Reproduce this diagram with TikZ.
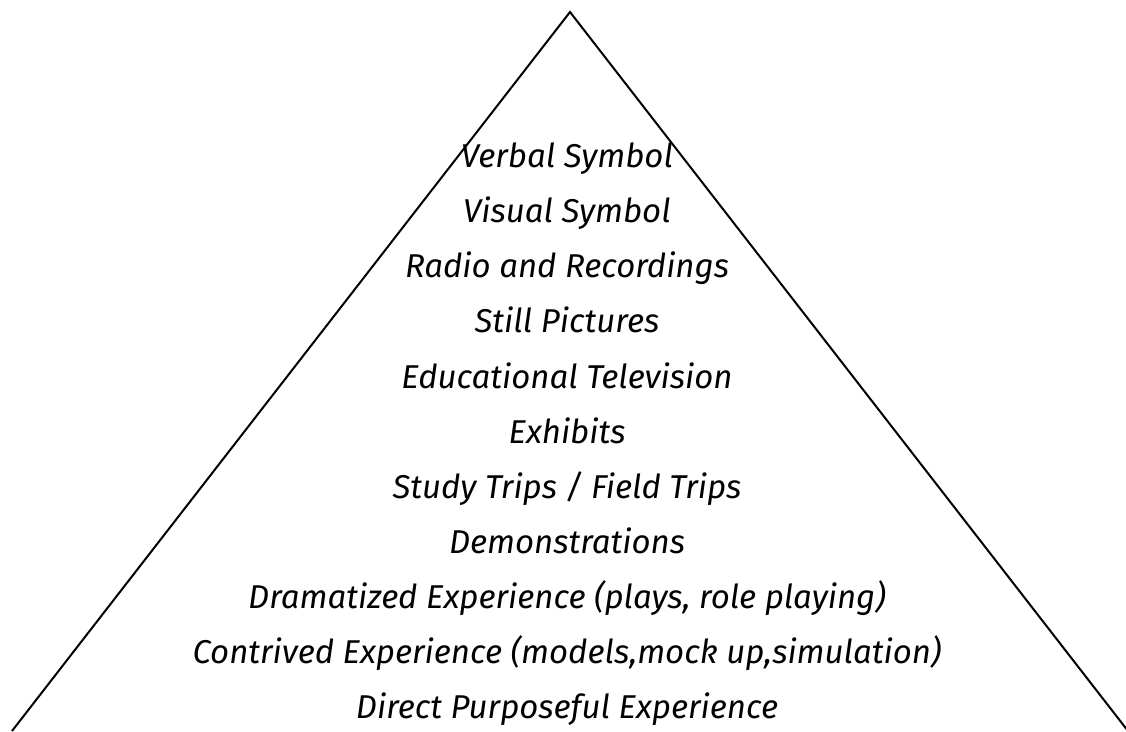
\documentclass[tikz,border=0pt]{standalone}
\usepackage{fontspec}
\setmainfont{Fira Sans}
\begin{document}
\begin{tikzpicture}[x=1pt,y=-1pt,
  level/.style={anchor=base,inner sep=0pt,font=\fontsize{33}{38}\selectfont\itshape},
  edge/.style={line width=2pt,line join=miter}]
\useasboundingbox (0,0) rectangle (1126,731);
% outline of the cone
\coordinate (apex) at (570,12);
\coordinate (bl) at (12,731);
\coordinate (br) at (1128,731);
\draw[edge] (bl) -- (apex) -- (br);
% levels, from top to base
\node[level] (l1)  at (567,167) {Verbal Symbol};
\node[level] (l2)  at (567,222) {Visual Symbol};
\node[level] (l3)  at (567,277) {Radio and Recordings};
\node[level] (l4)  at (567,332) {Still Pictures};
\node[level] (l5)  at (567,388) {Educational Television};
\node[level] (l6)  at (567,443) {Exhibits};
\node[level] (l7)  at (567,498) {Study Trips / Field Trips};
\node[level] (l8)  at (567,553) {Demonstrations};
\node[level] (l9)  at (567,608) {Dramatized Experience (plays, role playing)};
\node[level] (l10) at (567,663) {Contrived Experience (models,mock up,simulation)};
\node[level] (l11) at (567,718) {Direct Purposeful Experience};
\end{tikzpicture}
\end{document}
